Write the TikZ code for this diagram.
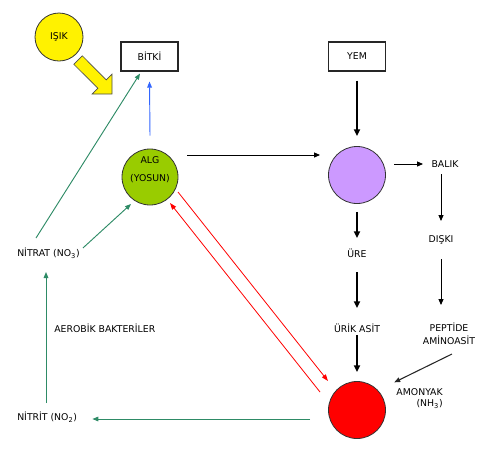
\documentclass[tikz,border=0pt]{standalone}
\usepackage{fontspec}
\setmainfont{DejaVu Sans}
\usetikzlibrary{calc,arrows.meta}
\definecolor{algc}{HTML}{99CC00}
\definecolor{purc}{HTML}{CC99FF}
\definecolor{grn}{HTML}{2E8B66}
\definecolor{blu}{HTML}{3366FF}
\tikzset{
  lbl/.style={inner sep=0pt, font=\fontsize{7}{8.4}\selectfont},
  blob/.style={circle, draw=black!80, line width=0.6pt, inner sep=0pt},
  boxn/.style={draw=black!85, line width=0.8pt, minimum width=42.75pt, minimum height=21.75pt, inner sep=0pt, font=\fontsize{7}{8.4}\selectfont},
  thk/.style={line width=1.3pt, -{Triangle[length=5pt,width=4.5pt]}},
  thn/.style={line width=0.7pt, -{Triangle[length=4.5pt,width=3.8pt]}},
  gr/.style={grn, line width=0.7pt, -{Triangle[length=4.5pt,width=3.5pt]}},
  rd/.style={red, line width=0.6pt, -{Triangle[length=5pt,width=3.5pt]}},
}
\begin{document}
\begin{tikzpicture}[x=0.75pt,y=-0.75pt]
\useasboundingbox (0,0) rectangle (500,455);
% nodes
\node[blob, fill=yellow, minimum size=36pt, lbl] (isik) at (59,37) {IŞIK};
\node[boxn] (bitki) at (149.5,56.5) {BİTKİ};
\node[boxn] (yem) at (357,56.5) {YEM};
\node[blob, fill=algc, minimum size=42pt] (alg) at (150,177) {};
\node[lbl] (algt) at ($(alg.center)+(0,-17)$) {ALG};
\node[lbl] (yosun) at ($(alg.center)+(0,2)$) {(YOSUN)};
\node[blob, fill=purc, minimum size=42.75pt] (pur) at (357,175) {};
\node[blob, fill=red, minimum size=42.75pt] (red) at (357,410) {};
\node[lbl] (balik) at (445,164) {BALIK};
\node[lbl] (diski) at (441,240) {DIŞKI};
\node[lbl, align=center, font=\fontsize{7}{9.75}\selectfont] (pep) at (449,334) {PEPTİDE\\AMİNOASİT};
\node[lbl] (ure) at (357,253) {ÜRE};
\node[lbl] (urik) at (357,328) {ÜRİK ASİT};
\node[lbl, align=right, anchor=east, font=\fontsize{7}{8.25}\selectfont] (amo) at (443,398.5) {AMONYAK\\(NH\textsubscript{3})};
\node[lbl, anchor=west] (nitrat) at (17,253) {NİTRAT (NO\textsubscript{3})};
\node[lbl, anchor=west] (nitrit) at (17,417) {NİTRİT (NO\textsubscript{2})};
\node[lbl, anchor=west] (aer) at (54,328) {AEROBİK BAKTERİLER};
% yellow block arrow
\draw[black!70, line width=0.5pt, fill=yellow]
  (82.3,55.8) -- (106.3,79.9) -- (112,74.2) -- (112,94) -- (92.2,94) -- (97.9,88.3) -- (73.8,64.3) -- cycle;
% connectors
\draw[blu, line width=0.7pt, -{Triangle[length=4.5pt,width=3.5pt]}] ($(alg.north)+(0,-13)$) -- ($(bitki.south)+(0,10)$);
\draw[thn] ($(alg.center)+(37,-22)$) -- ($(pur.center)+(-37,-20)$);
\draw[thk] ($(yem.south)+(0,9)$) -- ($(pur.north)+(0,-10)$);
\draw[thn] ($(pur.center)+(37,-11)$) -- ($(balik.center)+(-22,0)$);
\draw[thn] ($(balik.center)+(-4,10)$) -- ($(diski.center)+(0,-19)$);
\draw[thn] ($(diski.center)+(0,19)$) -- ($(pep.center)+(-8,-29)$);
\draw[thk] ($(pur.south)+(0,8)$) -- ($(ure.center)+(0,-15)$);
\draw[thk] ($(ure.center)+(0,19)$) -- ($(urik.center)+(0,-20)$);
\draw[thk] ($(urik.center)+(0,7)$) -- ($(red.north)+(0,-9)$);
\draw[black!85, line width=0.8pt, -{Triangle[length=4.5pt,width=3.5pt]}] ($(pep.center)+(3,20)$) -- ($(amo.north west)+(-2,-6)$);
\draw[rd] ($(alg.center)+(28,15)$) -- ($(red.center)+(-29,-29)$);
\draw[rd] ($(red.center)+(-37,-18)$) -- ($(alg.center)+(20,26)$);
\draw[gr] ($(red.center)+(-47,9)$) -- ($(nitrit.east)+(15,2)$);
\draw[gr] ($(nitrit.west)+(29,-14)$) -- ($(nitrat.west)+(29,19)$);
\draw[gr] ($(nitrat.east)+(3,-5)$) -- ($(alg.center)+(-19,27)$);
\draw[gr] ($(nitrat.west)+(19,-15)$) -- ($(bitki.south)+(-9.5,2)$);
\end{tikzpicture}
\end{document}
